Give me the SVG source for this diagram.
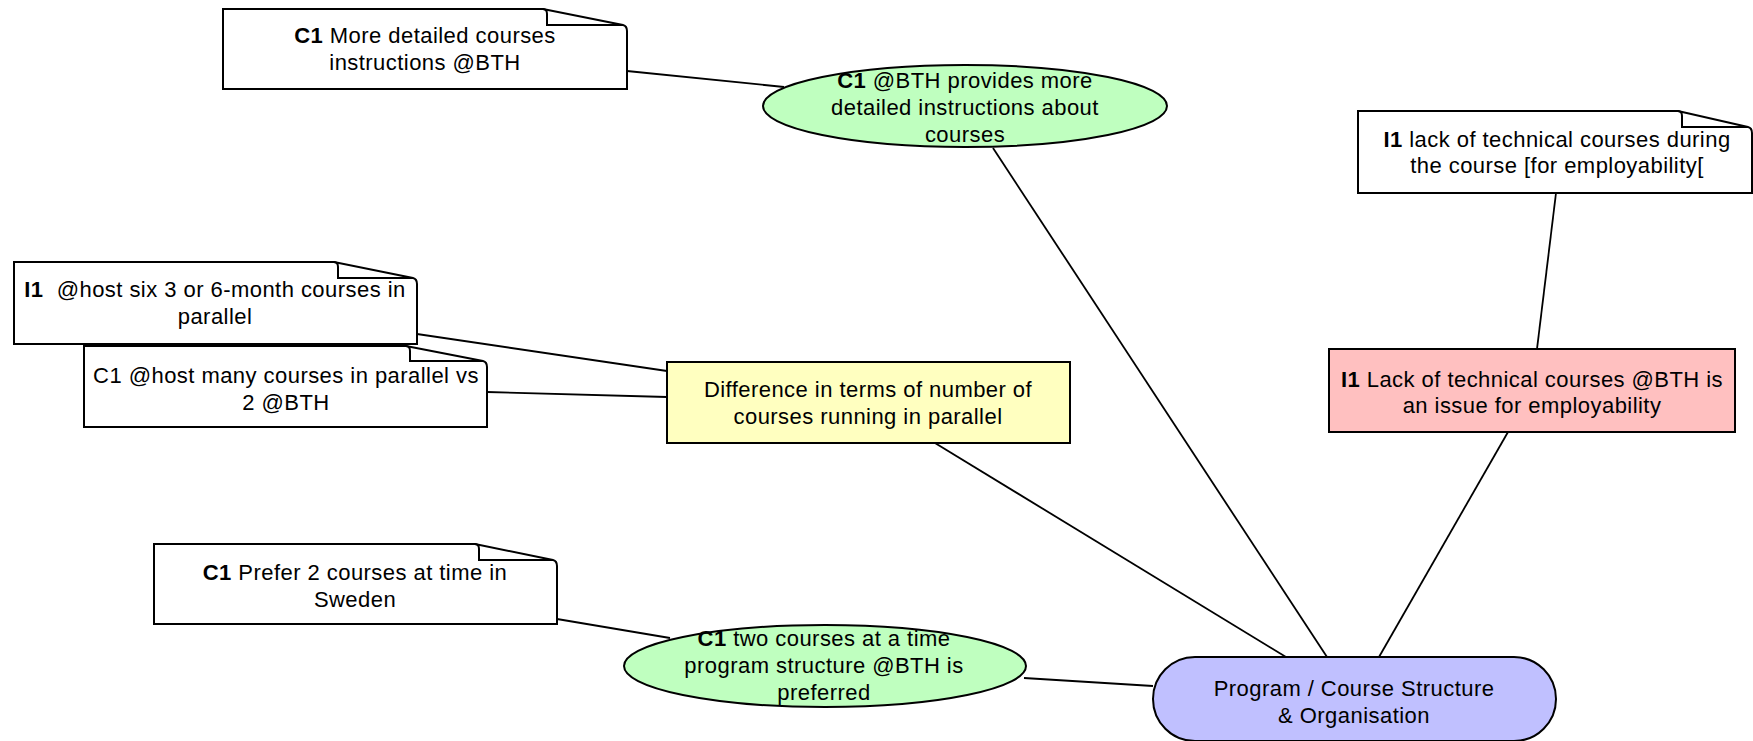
<svg xmlns="http://www.w3.org/2000/svg" width="1753" height="741" viewBox="0 0 1753 741">
<style>
.shape{stroke:#000;stroke-width:2}
.note{fill:#fff}
.fold{fill:none;stroke:#000;stroke-width:2}
.edge{stroke:#000;stroke-width:1.8;fill:none}
text{font-family:"Liberation Sans",Arial,Helvetica,sans-serif;font-size:22px;letter-spacing:0.45px;fill:#000;text-anchor:middle}
.b{font-weight:bold}
</style>
<rect width="1753" height="741" fill="#fff"/>
<g id="connectors">
<line class="edge" x1="627" y1="71" x2="784" y2="87"/>
<line class="edge" x1="993" y1="148" x2="1327" y2="657"/>
<line class="edge" x1="935" y1="443" x2="1286" y2="657"/>
<line class="edge" x1="1508" y1="432" x2="1379" y2="657"/>
<line class="edge" x1="1556" y1="193" x2="1537" y2="349"/>
<line class="edge" x1="417" y1="334" x2="667" y2="371"/>
<line class="edge" x1="487" y1="392" x2="667" y2="397"/>
<line class="edge" x1="557" y1="619" x2="670" y2="638"/>
<line class="edge" x1="1024" y1="678" x2="1153" y2="686"/>
</g>
<g id="note-c1-more-detailed">
<path class="shape note" d="M223,9 H543 L623,25 Q627,26 627,31 V89 H223 Z"/>
<path class="fold" d="M543,9 Q547,9 547,14 V25 H623"/>
<text x="425" y="43"><tspan class="b">C1</tspan> More detailed courses</text>
<text x="425" y="70">instructions @BTH</text>
</g>
<g id="ellipse-c1-bth-provides">
<ellipse class="shape" cx="965" cy="106" rx="202" ry="41" fill="#bfffbf"/>
<text x="965" y="88"><tspan class="b">C1</tspan> @BTH provides more</text>
<text x="965" y="115">detailed instructions about</text>
<text x="965" y="142">courses</text>
</g>
<g id="note-i1-lack-technical">
<path class="shape note" d="M1358,111 H1678 L1748,127 Q1752,128 1752,133 V193 H1358 Z"/>
<path class="fold" d="M1678,111 Q1682,111 1682,116 V127 H1748"/>
<text x="1557" y="147"><tspan class="b">I1</tspan> lack of technical courses during</text>
<text x="1557" y="173">the course [for employability[</text>
</g>
<g id="note-i1-host-six">
<path class="shape note" d="M14,262 H334 L413,278 Q417,279 417,284 V344 H14 Z"/>
<path class="fold" d="M334,262 Q338,262 338,267 V278 H413"/>
<text x="215" y="297" xml:space="preserve"><tspan class="b">I1</tspan>  @host six 3 or 6-month courses in</text>
<text x="215" y="324">parallel</text>
</g>
<g id="note-c1-host-many">
<path class="shape note" d="M84,346 H406 L483,361 Q487,362 487,367 V427 H84 Z"/>
<path class="fold" d="M406,346 Q410,346 410,351 V361 H483"/>
<text x="286" y="383">C1 @host many courses in parallel vs</text>
<text x="286" y="410">2 @BTH</text>
</g>
<g id="box-difference">
<rect class="shape" x="667" y="362" width="403" height="81" fill="#ffffc0"/>
<text x="868" y="397">Difference in terms of number of</text>
<text x="868" y="424">courses running in parallel</text>
</g>
<g id="box-i1-lack-bth">
<rect class="shape" x="1329" y="349" width="406" height="83" fill="#ffc0c0"/>
<text x="1532" y="387"><tspan class="b">I1</tspan> Lack of technical courses @BTH is</text>
<text x="1532" y="413">an issue for employability</text>
</g>
<g id="note-c1-prefer">
<path class="shape note" d="M154,544 H475 L553,560 Q557,561 557,566 V624 H154 Z"/>
<path class="fold" d="M475,544 Q479,544 479,549 V560 H553"/>
<text x="355" y="580"><tspan class="b">C1</tspan> Prefer 2 courses at time in</text>
<text x="355" y="607">Sweden</text>
</g>
<g id="ellipse-c1-two-courses">
<ellipse class="shape" cx="825" cy="666" rx="201" ry="41" fill="#bfffbf"/>
<text x="824" y="646"><tspan class="b">C1</tspan> two courses at a time</text>
<text x="824" y="673">program structure @BTH is</text>
<text x="824" y="700">preferred</text>
</g>
<g id="stadium-program">
<rect class="shape" x="1153" y="657" width="403" height="84" rx="42" ry="42" fill="#c0c0ff"/>
<text x="1354" y="696">Program / Course Structure</text>
<text x="1354" y="723">&amp; Organisation</text>
</g>
</svg>
